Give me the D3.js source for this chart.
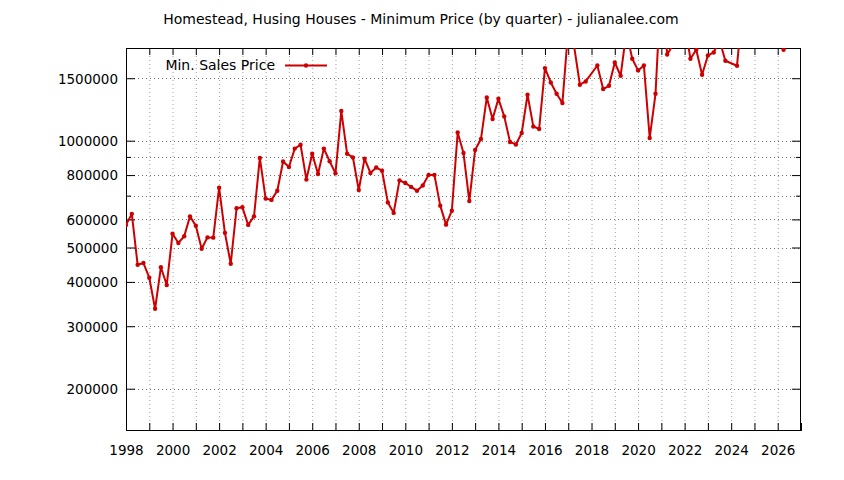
<!DOCTYPE html>
<html>
<head>
<meta charset="utf-8">
<script src="https://cdn.jsdelivr.net/npm/d3@7"></script>
<style>
  html, body { margin: 0; padding: 0; background: #fff; }
  svg { display: block; }
  text { font-family: "DejaVu Sans", sans-serif; fill: #000; }
</style>
</head>
<body>
<svg id="chart" width="844" height="480"></svg>
<script>
// ---- data (quarterly minimum sales price; null = no sale that quarter) ----
const years = [1998,1999,2000,2001,2002,2003,2004,2005,2006,2007,2008,2009,2010,2011,2012,
               2013,2014,2015,2016,2017,2018,2019,2020,2021,2022,2023,2024,2025,2026];
const minPrice = [
  [579000, 622000, 447000, 452000],
  [411000, 336000, 440000, 392000],
  [547000, 515000, 538000, 612000],
  [576000, 496000, 534000, 533000],
  [737000, 550000, 450000, 645000],
  [649000, 579000, 612000, 894000],
  [687000, 681000, 723000, 874000],
  [843000, 950000, 974000, 777000],
  [919000, 806000, 950000, 875000],
  [809000, 1212000, 919000, 897000],
  [726000, 890000, 811000, 840000],
  [823000, 670000, 626000, 773000],
  [760000, 741000, 723000, 748000],
  [801000, 801000, 656000, 580000],
  [635000, 1055000, 923000, 676000],
  [942000, 1011000, 1324000, 1151000],
  [1313000, 1171000, 992000, 976000],
  [1051000, 1347000, 1097000, 1079000],
  [1602000, 1459000, 1356000, 1277000],
  [2064000, 1850000, 1438000, 1469000],
  [null, 1629000, 1398000, 1428000],
  [1661000, 1524000, 2030000, 1702000],
  [1578000, 1629000, 1018000, 1356000],
  [2858000, 1750000, 1860000, 1950000],
  [2143000, 1702000, 1804000, 1534000],
  [1739000, 1773000, 1920000, 1680000],
  [null, 1626000, 2432000, 2600000],
  [2350000, 2700000, 2500000, 2900000],
  [2800000, 1804000, null, null]
];
const quarterOffsets = [0, 0.25, 0.5, 0.75];
const yLabeledTicks = [200000, 300000, 400000, 500000, 600000, 800000, 1000000, 1500000];
const yMinorTicks = [700000, 900000];
const xLabelYears = [1998,2000,2002,2004,2006,2008,2010,2012,2014,2016,2018,2020,2022,2024,2026];
const titleText = "Homestead, Husing Houses - Minimum Price (by quarter) - julianalee.com";
const seriesName = "Min. Sales Price";

// ---- build points ----
const points = [];
years.forEach((yr, i) => {
  minPrice[i].forEach((v, q) => {
    if (v !== null) points.push({ t: yr + quarterOffsets[q], v: v });
  });
});

// ---- layout ----
const plot = { left: 126, right: 801, top: 48, bottom: 431 };
const red = "#cc0000";

const svg = d3.select("#chart");
const x = d3.scaleLinear().domain([1998, 2027]).range([plot.left, plot.right]);
const y = d3.scaleLog().domain([152000, 1825000]).range([plot.bottom, plot.top]);

// grid
const gridYears = d3.range(1999, 2027);
const grid = svg.append("g").attr("class", "grid");
grid.selectAll("line.gx").data(gridYears).enter().append("line")
  .attr("x1", d => x(d) + 0.5).attr("x2", d => x(d) + 0.5)
  .attr("y1", plot.top).attr("y2", plot.bottom)
  .attr("stroke", "#a0a0a0").attr("stroke-width", 1).attr("stroke-dasharray", "1,3");
grid.selectAll("line.gy").data(yLabeledTicks.concat(yMinorTicks)).enter().append("line")
  .attr("x1", plot.left).attr("x2", plot.right)
  .attr("y1", d => Math.round(y(d)) + 0.5).attr("y2", d => Math.round(y(d)) + 0.5)
  .attr("stroke", "#707070").attr("stroke-width", 1).attr("stroke-dasharray", "1,3");

// axes using d3 axis generators (ticks inward)
const xAxisBottom = d3.axisBottom(x).tickValues(d3.range(1998, 2028)).tickSize(-8)
  .tickFormat(d => xLabelYears.includes(d) ? String(d) : "").tickPadding(14);
const gxb = svg.append("g").attr("transform", `translate(0,${plot.bottom})`).call(xAxisBottom);
const xAxisTop = d3.axisTop(x).tickValues(d3.range(1999, 2027)).tickSize(-7).tickFormat("");
const gxt = svg.append("g").attr("transform", `translate(0,${plot.top})`).call(xAxisTop);

const yAxisLeft = d3.axisLeft(y).tickValues(yLabeledTicks).tickSize(-9)
  .tickFormat(d3.format("d")).tickPadding(8);
const gyl = svg.append("g").attr("transform", `translate(${plot.left},0)`).call(yAxisLeft);
const gylm = svg.append("g").attr("transform", `translate(${plot.left},0)`)
  .call(d3.axisLeft(y).tickValues(yMinorTicks).tickSize(-5).tickFormat(""));
const gyr = svg.append("g").attr("transform", `translate(${plot.right},0)`)
  .call(d3.axisRight(y).tickValues(yLabeledTicks).tickSize(-9).tickFormat(""));
const gyrm = svg.append("g").attr("transform", `translate(${plot.right},0)`)
  .call(d3.axisRight(y).tickValues(yMinorTicks).tickSize(-5).tickFormat(""));

[gxb, gxt, gyl, gylm, gyr, gyrm].forEach(g => {
  g.attr("font-size", null).attr("font-family", null);
  g.select(".domain").remove();
  g.selectAll(".tick line").attr("stroke", "#000").attr("stroke-width", 1);
  g.selectAll(".tick text")
    .style("font-family", "'DejaVu Sans', sans-serif")
    .style("font-size", "13.5px").attr("fill", "#000");
});
gyl.selectAll(".tick text").attr("dy", "0.36em");

// frame
svg.append("rect")
  .attr("x", plot.left + 0.5).attr("y", plot.top + 0.5)
  .attr("width", plot.right - plot.left - 1).attr("height", plot.bottom - plot.top - 1)
  .attr("fill", "none").attr("stroke", "#000").attr("stroke-width", 1);

// clip
svg.append("clipPath").attr("id", "clip").append("rect")
  .attr("x", plot.left).attr("y", plot.top)
  .attr("width", plot.right - plot.left).attr("height", plot.bottom - plot.top);

const line = d3.line().x(d => x(d.t)).y(d => y(d.v));
const series = svg.append("g").attr("clip-path", "url(#clip)");
series.append("path").datum(points)
  .attr("d", line).attr("fill", "none").attr("stroke", red)
  .attr("stroke-width", 2).attr("stroke-linejoin", "round");
series.selectAll("circle").data(points).enter().append("circle")
  .attr("cx", d => x(d.t)).attr("cy", d => y(d.v)).attr("r", 2.2).attr("fill", red);

// legend
const leg = svg.append("g");
leg.append("text").attr("x", 275).attr("y", 70).attr("text-anchor", "end")
  .style("font-size", "14px").text(seriesName);
leg.append("line").attr("x1", 285).attr("x2", 327).attr("y1", 65.5).attr("y2", 65.5)
  .attr("stroke", red).attr("stroke-width", 2);
leg.append("circle").attr("cx", 306).attr("cy", 65.5).attr("r", 2.2).attr("fill", red);

// title
svg.append("text").attr("x", 421).attr("y", 24).attr("text-anchor", "middle")
  .style("font-size", "14px").text(titleText);
</script>
</body>
</html>
